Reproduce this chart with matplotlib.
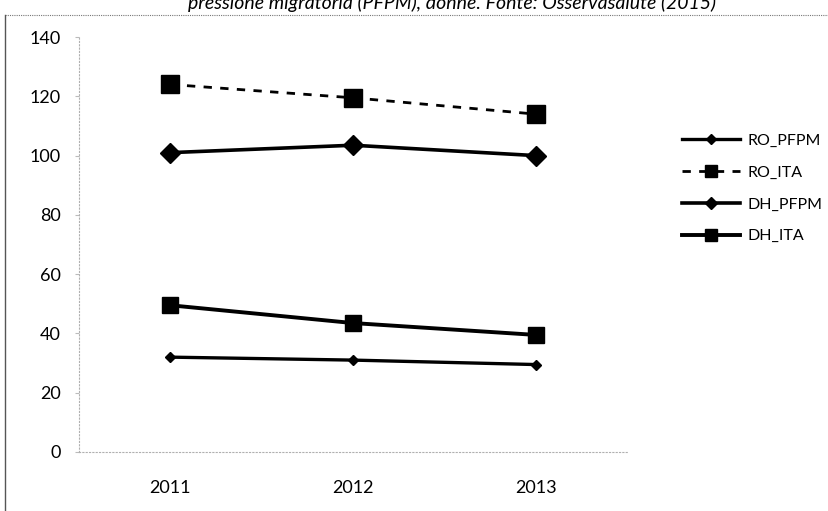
import matplotlib.pyplot as plt
from matplotlib.lines import Line2D

anni = ['2011', '2012', '2013']
ro_pfpm = [32, 31, 29.5]
ro_ita = [124, 119.5, 114]
dh_pfpm = [101, 103.5, 100]
dh_ita = [49.5, 43.5, 39.5]
yticks = [0, 20, 40, 60, 80, 100, 120, 140]

plt.rcParams['font.family'] = ['Lato', 'DejaVu Sans']

fig = plt.figure(figsize=(8.29, 5.11), dpi=100)
ax = fig.add_axes([0.0953, 0.1155, 0.661, 0.812])

x = range(len(anni))
ax.plot(x, ro_pfpm, color='black', lw=2.4, marker='D', ms=5, label='RO_PFPM')
ax.plot(x, ro_ita, color='black', lw=2.0, ls=(0, (3, 3)), marker='s', ms=13, label='RO_ITA')
ax.plot(x, dh_pfpm, color='black', lw=2.6, marker='D', ms=10, label='DH_PFPM')
ax.plot(x, dh_ita, color='black', lw=2.8, marker='s', ms=12, label='DH_ITA')

ax.set_xlim(-0.5, 2.5)
ax.set_ylim(0, 140)
ax.set_xticks(list(x))
ax.set_xticklabels(anni)
ax.set_yticks(yticks)
ax.tick_params(axis='x', length=0, pad=20, labelsize=13)
ax.tick_params(axis='y', length=3, color='#bbbbbb', pad=10, labelsize=13)
for s in ['top', 'right']:
    ax.spines[s].set_visible(False)
for s in ['left', 'bottom']:
    ax.spines[s].set_color('#b0b0b0')
    ax.spines[s].set_linestyle((0, (1, 2)))
    ax.spines[s].set_linewidth(0.8)

leg = ax.legend(loc='center left', bbox_to_anchor=(1.075, 0.635), frameon=False,
                fontsize=11.5, handlelength=3.6, labelspacing=1.1, handletextpad=0.5)
for h in leg.legend_handles:
    if h.get_marker() == 's':
        h.set_markersize(8)
    elif h.get_label() == 'DH_PFPM':
        h.set_markersize(6)

# titolo tagliato in alto
fig.text(0.545, 0.995, 'pressione migratoria (PFPM), donne. Fonte: Osservasalute (2015)',
         ha='center', va='center', fontsize=14, style='italic')

# cornice tratteggiata
fig.add_artist(Line2D([0.006, 1.0], [0.97, 0.97], color='#777777', lw=0.8, ls=(0, (1, 1))))
fig.add_artist(Line2D([0.006, 0.006], [0.0, 0.97], color='#555555', lw=1.0))

fig.savefig('out.png', dpi=100)
